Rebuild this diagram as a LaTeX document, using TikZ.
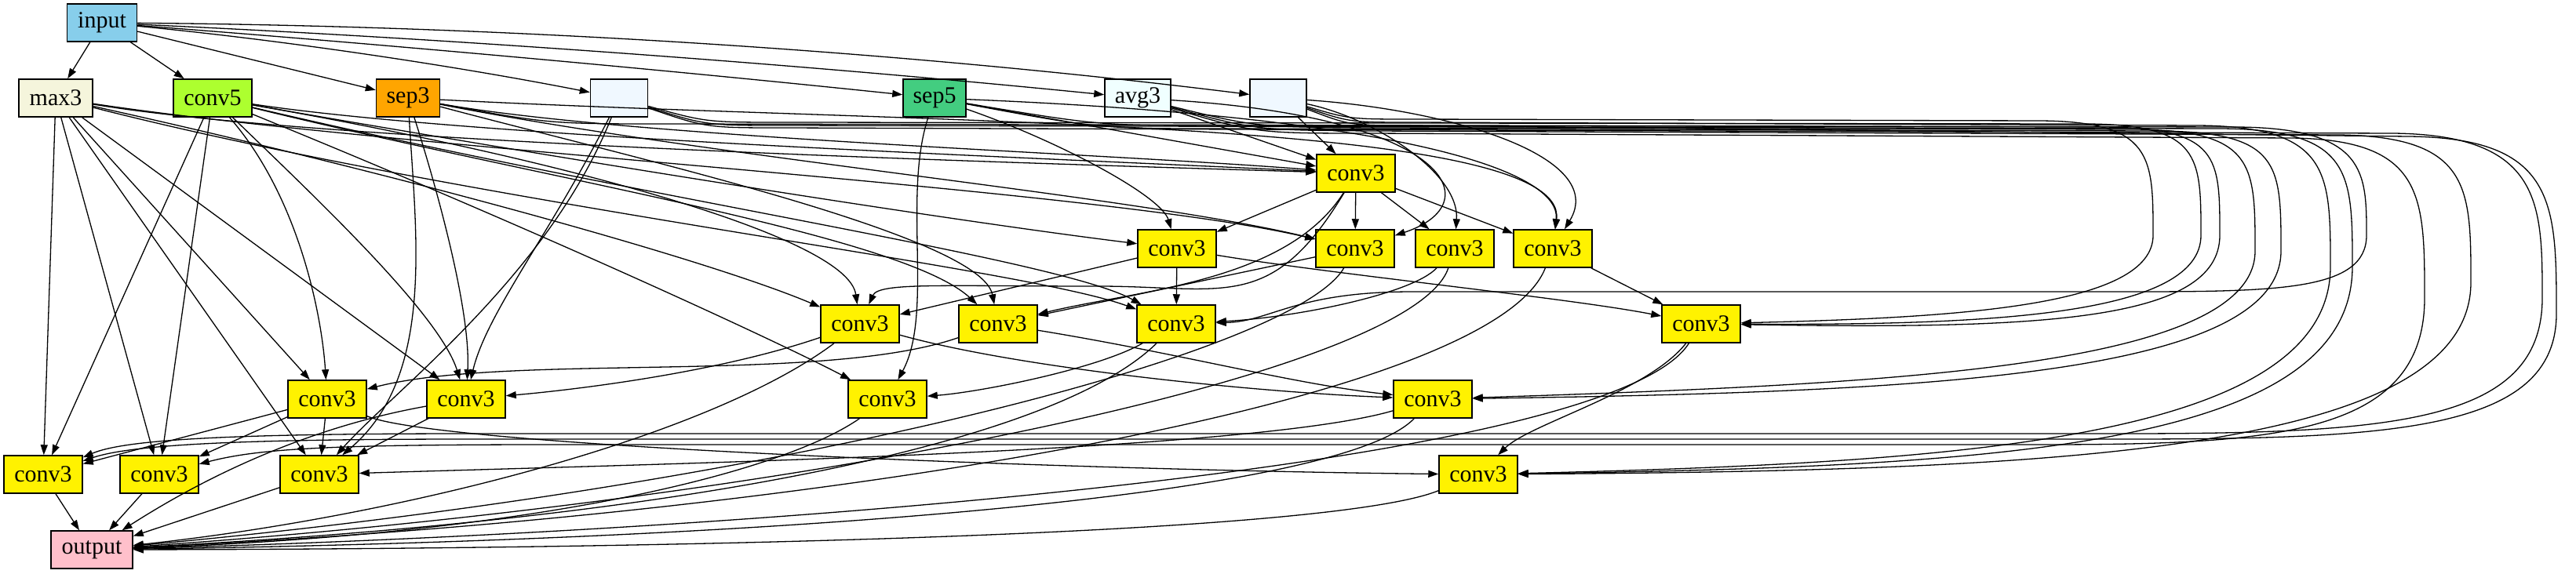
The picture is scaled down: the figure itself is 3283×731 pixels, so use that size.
\documentclass[tikz,border=0pt]{standalone}
\usepackage{fontspec}
\setmainfont{Liberation Serif}
\usepackage{tikz}
\usetikzlibrary{arrows.meta}
\definecolor{skyblue}{RGB}{135,206,235}
\definecolor{beige}{RGB}{245,245,220}
\definecolor{greenyellow}{RGB}{173,255,47}
\definecolor{septhree}{RGB}{255,165,0}
\definecolor{aliceblue}{RGB}{240,248,255}
\definecolor{sepfive}{RGB}{67,205,128}
\definecolor{azure}{RGB}{240,255,255}
\definecolor{outpink}{RGB}{255,192,203}

\begin{document}
\begin{tikzpicture}[x=1pt, y=-1pt,
    layer/.style={draw, line width=1.5pt, minimum height=48pt, inner sep=0pt, font=\fontsize{30}{32}\selectfont},
    conv/.style={layer, fill=yellow, minimum width=100pt},
    link/.style={-{Triangle[length=13pt,width=9pt]}, line width=1.3pt}
  ]
  \useasboundingbox (0,0) rectangle (3283,731);

  % first two ranks
  \node[layer, fill=skyblue, minimum width=89pt] (inp) at (130,29) {input};
  \node[layer, fill=beige, minimum width=94pt] (max3) at (71,125) {max3};
  \node[layer, fill=greenyellow, minimum width=100pt] (conv5) at (271,125) {conv5};
  \node[layer, fill=septhree, minimum width=81pt] (sep3) at (520,125) {sep3};
  \node[layer, fill=aliceblue, minimum width=73pt] (skipa) at (789,125) {};
  \node[layer, fill=sepfive, minimum width=80pt] (sep5) at (1191,125) {sep5};
  \node[layer, fill=azure, minimum width=84pt] (avg3) at (1450,125) {avg3};
  \node[layer, fill=aliceblue, minimum width=72pt] (skipb) at (1629,125) {};

  % conv3 cells
  \node[conv] (cA) at (1728,221) {conv3};
  \node[conv] (cB) at (1500,317) {conv3};
  \node[conv] (cC) at (1727,317) {conv3};
  \node[conv] (cD) at (1854,317) {conv3};
  \node[conv] (cE) at (1979,317) {conv3};
  \node[conv] (cF) at (1096,413) {conv3};
  \node[conv] (cG) at (1272,413) {conv3};
  \node[conv] (cH) at (1499,413) {conv3};
  \node[conv] (cI) at (2168,413) {conv3};
  \node[conv] (cJ) at (417,509) {conv3};
  \node[conv] (cK) at (594,509) {conv3};
  \node[conv] (cL) at (1131,509) {conv3};
  \node[conv] (cM) at (1826,509) {conv3};
  \node[conv] (cN) at (55,605) {conv3};
  \node[conv] (cO) at (203,605) {conv3};
  \node[conv] (cP) at (407,605) {conv3};
  \node[conv] (cQ) at (1884,605) {conv3};

  \node[layer, fill=outpink, minimum width=104pt] (outp) at (117,701) {output};

  % from input
  \draw[link] (inp) -- (max3);
  \draw[link] (inp) -- (conv5);
  \draw[link] (inp) -- (sep3);
  \draw[link] (inp) .. controls (350,50) and (570,82) .. (skipa);
  \draw[link] (inp) .. controls (484,56) and (837,88) .. (sep5);
  \draw[link] (inp) .. controls (570,49) and (1010,81) .. (avg3);
  \draw[link] (inp) .. controls (630,33) and (1130,63) .. (skipb);

  % into the first conv3
  \draw[link] (skipb) -- (cA);
  \draw[link] (avg3) -- (cA);
  \draw[link] (sep5) -- (cA);
  \draw[link] (sep3) .. controls (800,175) and (1400,195) .. (cA);
  \draw[link] (conv5) .. controls (600,175) and (1300,200) .. (cA);
  \draw[link] (max3) .. controls (400,180) and (1200,205) .. (cA);

  % third rank
  \draw[link] (cA) -- (cB);
  \draw[link] (sep5) .. controls (1350,180) and (1480,250) .. (cB);
  \draw[link] (conv5) .. controls (700,200) and (1200,280) .. (cB);
  \draw[link] (cA) -- (cC);
  \draw[link] (avg3) .. controls (1850,150) and (1900,260) .. (cC);
  \draw[link] (max3) .. controls (500,190) and (1400,240) .. (cC);
  \draw[link] (sep3) .. controls (900,200) and (1450,250) .. (cC);
  \draw[link] (cA) -- (cD);
  \draw[link] (skipb) .. controls (1750,150) and (1860,220) .. (cD);
  \draw[link] (cA) -- (cE);
  \draw[link] (sep5) .. controls (1800,150) and (1990,220) .. (cE);
  \draw[link] (skipb) .. controls (1850,140) and (2050,200) .. (cE);
  \draw[link] (sep3) .. controls (1200,160) and (2000,150) .. (cE);

  % fourth rank
  \draw[link] (cB) -- (cF);
  \draw[link] (max3) .. controls (500,220) and (900,330) .. (cF);
  \draw[link] (conv5) .. controls (700,200) and (1080,300) .. (cF);
  \draw[link] (cA) .. controls (1620,400) and (1560,365) .. (1400,365) .. controls (1200,365) and (1120,360) .. (cF);
  \draw[link] (cA) .. controls (1640,360) and (1450,370) .. (cG);
  \draw[link] (conv5) .. controls (700,230) and (1150,300) .. (cG);
  \draw[link] (sep3) .. controls (800,200) and (1250,300) .. (cG);
  \draw[link] (cC) -- (cG);
  \draw[link] (cB) -- (cH);
  \draw[link] (conv5) .. controls (800,250) and (1350,330) .. (cH);
  \draw[link] (max3) .. controls (600,260) and (1300,340) .. (cH);
  \draw[link] (cD) .. controls (1800,375) and (1650,405) .. (cH);
  \draw[link] (cB) .. controls (1700,350) and (2000,380) .. (cI);
  \draw[link] (cE) -- (cI);

  % fifth rank
  \draw[link] (max3) -- (cJ);
  \draw[link] (conv5) .. controls (380,250) and (410,400) .. (cJ);
  \draw[link] (cG) .. controls (1050,490) and (650,450) .. (cJ);
  \draw[link] (max3) -- (cK);
  \draw[link] (conv5) .. controls (400,250) and (560,400) .. (cK);
  \draw[link] (sep3) .. controls (560,250) and (600,400) .. (cK);
  \draw[link] (skipa) .. controls (700,300) and (620,400) .. (cK);
  \draw[link] (cF) .. controls (900,480) and (700,500) .. (cK);
  \draw[link] (conv5) .. controls (700,300) and (1000,440) .. (cL);
  \draw[link] (sep5) .. controls (1150,250) and (1190,400) .. (cL);
  \draw[link] (cH) .. controls (1400,470) and (1250,500) .. (cL);
  \draw[link] (cG) .. controls (1500,450) and (1650,490) .. (cM);
  \draw[link] (cF) .. controls (1300,470) and (1600,500) .. (cM);

  % sixth rank
  \draw[link] (max3) -- (cN);
  \draw[link] (conv5) -- (cN);
  \draw[link] (cJ) -- (cN);
  \draw[link] (max3) -- (cO);
  \draw[link] (conv5) -- (cO);
  \draw[link] (cJ) -- (cO);
  \draw[link] (max3) -- (cP);
  \draw[link] (sep3) .. controls (530,300) and (555,480) .. (cP);
  \draw[link] (skipa) .. controls (700,350) and (500,500) .. (cP);
  \draw[link] (cJ) -- (cP);
  \draw[link] (cK) -- (cP);
  \draw[link] (cM) .. controls (1600,575) and (900,590) .. (cP);
  \draw[link] (cJ) .. controls (560,570) and (1400,600) .. (cQ);
  \draw[link] (cI) .. controls (2100,500) and (1950,540) .. (cQ);

  % long edges round the right side
  \draw[link] (skipb) .. controls (1720,152) .. (1800,152) -- (2600,154) .. controls (2744,155) and (2744,200) .. (2744,300) .. controls (2744,390) and (2500,405) .. (cI);
  \draw[link] (skipa) .. controls (900,156) .. (1000,156) -- (2660,158) .. controls (2805,159) and (2805,200) .. (2805,300) .. controls (2805,400) and (2550,415) .. (cI);
  \draw[link] (sep5) .. controls (1400,160) .. (1550,160) -- (2680,162) .. controls (2829,163) and (2829,200) .. (2829,300) .. controls (2829,410) and (2600,420) .. (cI);
  \draw[link] (avg3) .. controls (1600,162) .. (1750,163) -- (2720,165) .. controls (2874,166) and (2874,210) .. (2874,320) .. controls (2874,470) and (2400,490) .. (cM);
  \draw[link] (sep5) .. controls (1400,164) .. (1550,164) -- (2750,167) .. controls (2907,168) and (2907,210) .. (2907,320) .. controls (2907,480) and (2450,500) .. (cM);
  \draw[link] (skipb) .. controls (1720,156) .. (1800,156) -- (2800,160) .. controls (2970,161) and (2970,220) .. (2970,340) .. controls (2970,560) and (2500,590) .. (cQ);
  \draw[link] (skipa) .. controls (900,160) .. (1000,160) -- (2830,164) .. controls (2998,165) and (2998,220) .. (2998,340) .. controls (2998,570) and (2550,595) .. (cQ);
  \draw[link] (avg3) .. controls (1600,166) .. (1750,167) -- (2980,172) .. controls (3149,174) and (3149,240) .. (3149,360) .. controls (3149,580) and (2600,600) .. (cQ);
  \draw[link] (sep3) .. controls (700,158) .. (850,158) -- (2850,162) .. controls (3016,163) and (3016,220) .. (3016,300) .. controls (3016,372) and (2900,372) .. (2700,372) -- (1800,372) .. controls (1650,372) and (1620,410) .. (cH);
  \draw[link] (skipa) .. controls (900,163) .. (1000,163) -- (3050,170) .. controls (3240,172) and (3240,260) .. (3240,380) .. controls (3240,540) and (3050,553) .. (2700,553) -- (600,553) .. controls (300,553) and (160,560) .. (cN);
  \draw[link] (skipb) .. controls (1720,160) .. (1800,160) -- (3070,174) .. controls (3258,176) and (3258,260) .. (3258,400) .. controls (3258,550) and (3050,560) .. (2700,560) -- (600,560) .. controls (320,560) and (170,566) .. (cN);
  \draw[link] (avg3) .. controls (1600,170) .. (1750,170) -- (2920,176) .. controls (3090,178) and (3090,250) .. (3090,380) .. controls (3090,555) and (2900,567) .. (2600,567) -- (700,567) .. controls (420,567) and (330,572) .. (cO);

  % into output
  \draw[link] (cN) -- (outp);
  \draw[link] (cO) -- (outp);
  \draw[link] (cP) -- (outp);
  \draw[link] (cK) .. controls (420,540) and (290,590) .. (outp);
  \draw[link] (cF) .. controls (900,560) and (500,660) .. (outp);
  \draw[link] (cL) .. controls (1000,600) and (700,680) .. (outp);
  \draw[link] (cH) .. controls (1350,560) and (900,660) .. (outp);
  \draw[link] (cC) .. controls (1650,450) and (1000,620) .. (outp);
  \draw[link] (cD) .. controls (1800,480) and (1000,640) .. (outp);
  \draw[link] (cE) .. controls (1900,520) and (1000,660) .. (outp);
  \draw[link] (cI) .. controls (2050,600) and (900,680) .. (outp);
  \draw[link] (cM) .. controls (1700,640) and (900,690) .. (outp);
  \draw[link] (cQ) .. controls (1700,680) and (900,700) .. (outp);
\end{tikzpicture}
\end{document}
